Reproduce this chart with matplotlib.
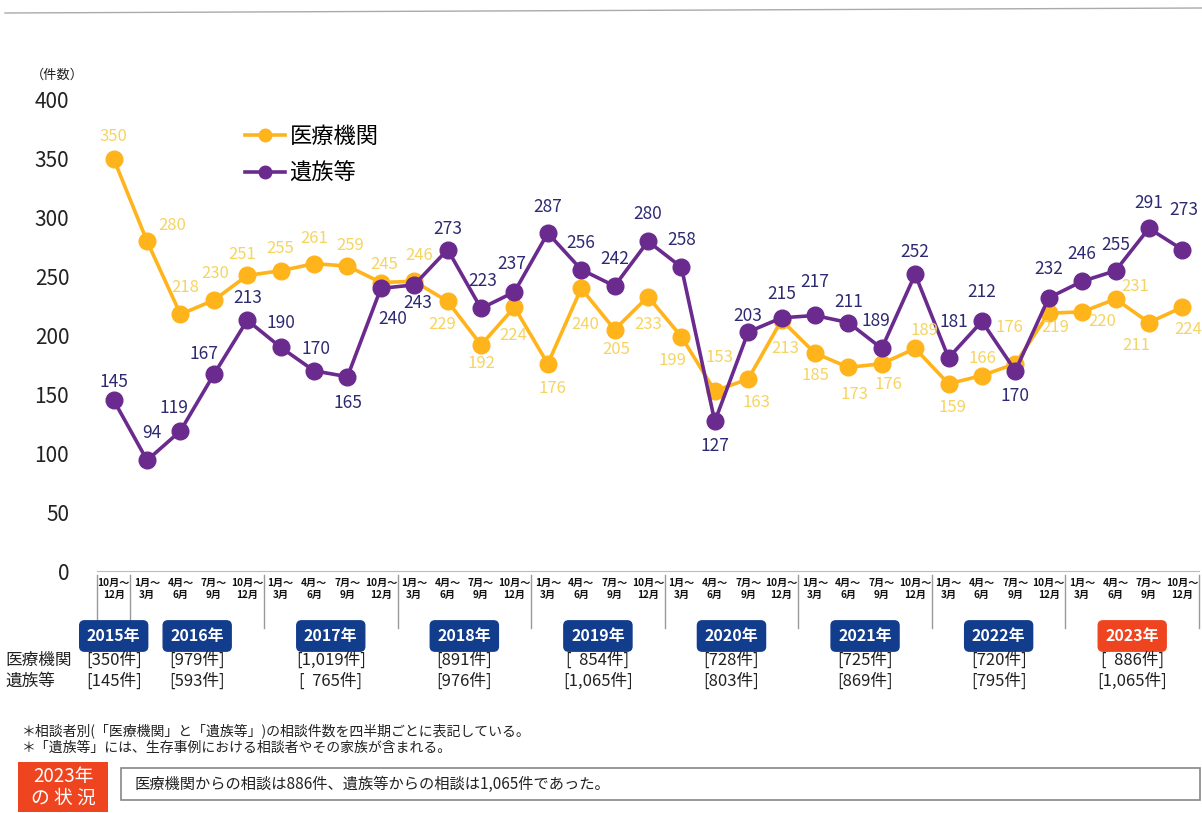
import matplotlib
matplotlib.use("Agg")
import matplotlib.pyplot as plt
import matplotlib.transforms as mtransforms
from matplotlib.lines import Line2D
from matplotlib.patches import Rectangle

plt.rcParams["font.family"] = ["Noto Sans CJK JP", "DejaVu Sans"]

# quarterly consultation counts, 2015 Q4 .. 2023 Q4
iryo = [350,
        280, 218, 230, 251,
        255, 261, 259, 245,
        246, 229, 192, 224,
        176, 240, 205, 233,
        199, 153, 163, 213,
        185, 173, 176, 189,
        159, 166, 176, 219,
        220, 231, 211, 224]
izoku = [145,
         94, 119, 167, 213,
         190, 170, 165, 240,
         243, 273, 223, 237,
         287, 256, 242, 280,
         258, 127, 203, 215,
         217, 211, 189, 252,
         181, 212, 170, 232,
         246, 255, 291, 273]
quarter_labels = ["10月～\n12月"] + ["1月～\n3月", "4月～\n6月", "7月～\n9月", "10月～\n12月"] * 8
years = ["2015年", "2016年", "2017年", "2018年", "2019年", "2020年", "2021年", "2022年", "2023年"]
year_quarters = [1, 4, 4, 4, 4, 4, 4, 4, 4]
iryo_totals = ["[350件]", "[979件]", "[1,019件]", "[891件]", "[  854件]",
               "[728件]", "[725件]", "[720件]", "[  886件]"]
izoku_totals = ["[145件]", "[593件]", "[  765件]", "[976件]", "[1,065件]",
                "[803件]", "[869件]", "[795件]", "[1,065件]"]
y_ticks = [0, 50, 100, 150, 200, 250, 300, 350, 400]

# label offsets in pixels (dx, dy up)
iryo_off = [(0, 22), (25, 16), (5, 27), (1, 27), (-5, 21), (0, 22), (0, 25), (3, 21), (3, 18),
            (5, 26), (-5, -23), (0, -19), (-1, -28), (5, -25), (4, -36), (2, -20), (0, -28),
            (-9, -24), (5, 33), (8, -23), (4, -28), (0, -22), (6, -27), (7, -21), (9, 18),
            (4, -24), (0, 17), (-6, 36), (7, -14), (20, -10), (20, 12), (-13, -23), (6, -22)]
izoku_off = [(0, 18), (5, 27), (-7, 23), (-10, 20), (0, 22), (0, 24), (2, 22), (0, -26), (12, -31),
             (4, -18), (0, 21), (2, 27), (-3, 28), (0, 26), (0, 27), (0, 27), (0, 27), (0, 27),
             (0, -25), (0, 16), (0, 24), (0, 33), (0, 21), (-6, 27), (0, 22), (5, 36), (0, 29),
             (0, -25), (0, 29), (0, 27), (0, 26), (0, 25), (2, 40)]

ORANGE = "#FFB41C"
ORANGE_TXT = "#F6D462"
PURPLE = "#6A2A8E"
PURPLE_TXT = "#2E2A72"
NAVY = "#123C8C"
RED = "#EE4520"

W, H = 1202, 813
fig = plt.figure(figsize=(W / 100, H / 100), dpi=100)


def fx(x):
    return x / W


def fy(y):
    return 1 - y / H


ax = fig.add_axes([fx(97), fy(571), fx(1199) - fx(97), fy(100) - fy(571)])
xs = list(range(len(iryo)))
ax.plot(xs, iryo, color=ORANGE, lw=2.6, marker="o", ms=12, zorder=3, clip_on=False)
ax.plot(xs, izoku, color=PURPLE, lw=2.6, marker="o", ms=12, zorder=4, clip_on=False)

for i, v in enumerate(iryo):
    ax.annotate(str(v), (i, v), xytext=iryo_off[i], textcoords="offset pixels",
                ha="center", va="center", fontsize=12, color=ORANGE_TXT, zorder=5)
for i, v in enumerate(izoku):
    ax.annotate(str(v), (i, v), xytext=izoku_off[i], textcoords="offset pixels",
                ha="center", va="center", fontsize=12.5, color=PURPLE_TXT, zorder=6)

ax.set_xlim(-0.5, len(iryo) - 0.5)
ax.set_ylim(0, 400)
ax.set_yticks(y_ticks)
ax.set_yticklabels([str(t) for t in y_ticks], fontsize=15, color="#222222")
ax.tick_params(axis="y", length=0, pad=20)
ax.set_xticks([])
for s in ax.spines.values():
    s.set_visible(False)
fig.text(fx(57), fy(75), "（件数）", ha="center", va="center", fontsize=9.5, color="#222222")

# legend
handles = [Line2D([], [], color=ORANGE, lw=2.6, marker="o", ms=9),
           Line2D([], [], color=PURPLE, lw=2.6, marker="o", ms=9)]
fig.legend(handles, ["医療機関", "遺族等"], loc="upper left",
           bbox_to_anchor=(fx(225), fy(105)), frameon=False, fontsize=16,
           handlelength=1.8, handletextpad=0.2, labelspacing=0.6)

# x axis: quarter labels and year separators
tr = mtransforms.blended_transform_factory(ax.transData, fig.transFigure)
ax.plot([-0.5, len(iryo) - 0.5], [0, 0], color="#bbbbbb", lw=0.8, clip_on=False, zorder=1)
for i, q in enumerate(quarter_labels):
    fig.text(i, fy(589), q, transform=tr, ha="center", va="center", fontsize=7.3,
             fontweight="bold", color="#111111", linespacing=1.3)

start = -0.5
for name, n, t1, t2 in zip(years, year_quarters, iryo_totals, izoku_totals):
    fig.add_artist(Line2D([start, start], [fy(575), fy(628)], transform=tr,
                          color="#999999", lw=1.0))
    mid = start + n / 2
    face = RED if name == years[-1] else NAVY
    fig.text(mid, fy(636), name, transform=tr, ha="center", va="center", fontsize=11.5,
             fontweight="bold", color="white",
             bbox=dict(boxstyle="round,pad=0.45,rounding_size=0.3", fc=face, ec=face))
    fig.text(mid, fy(660), t1, transform=tr, ha="center", va="center", fontsize=12,
             color="#222222")
    fig.text(mid, fy(681), t2, transform=tr, ha="center", va="center", fontsize=12,
             color="#222222")
    start += n
fig.add_artist(Line2D([start, start], [fy(575), fy(628)], transform=tr, color="#999999", lw=1.0))

fig.text(fx(5), fy(660), "医療機関", ha="left", va="center", fontsize=12, color="#222222")
fig.text(fx(5), fy(681), "遺族等", ha="left", va="center", fontsize=12, color="#222222")

# footnotes
fig.text(fx(22), fy(731), "＊相談者別(「医療機関」と「遺族等」)の相談件数を四半期ごとに表記している。",
         ha="left", va="center", fontsize=10, color="#222222")
fig.text(fx(22), fy(748), "＊「遺族等」には、生存事例における相談者やその家族が含まれる。",
         ha="left", va="center", fontsize=10, color="#222222")

fig.add_artist(Rectangle((fx(18), fy(812)), fx(108) - fx(18), fy(762) - fy(812),
                         transform=fig.transFigure, fc=RED, ec="none"))
fig.text(fx(63), fy(787), "2023年\nの 状 況", ha="center", va="center", fontsize=13.5,
         color="white", linespacing=1.05)
fig.add_artist(Rectangle((fx(121), fy(800)), fx(1200) - fx(121), fy(768) - fy(800),
                         transform=fig.transFigure, fc="white", ec="#888888", lw=1.2))
fig.text(fx(135), fy(784), "医療機関からの相談は886件、遺族等からの相談は1,065件であった。",
         ha="left", va="center", fontsize=11, color="#222222")

# page border at top
fig.add_artist(Line2D([fx(5), fx(1202)], [fy(13), fy(8)], transform=fig.transFigure,
                      color="#aaaaaa", lw=1.0))

fig.savefig("out.png", dpi=100)
